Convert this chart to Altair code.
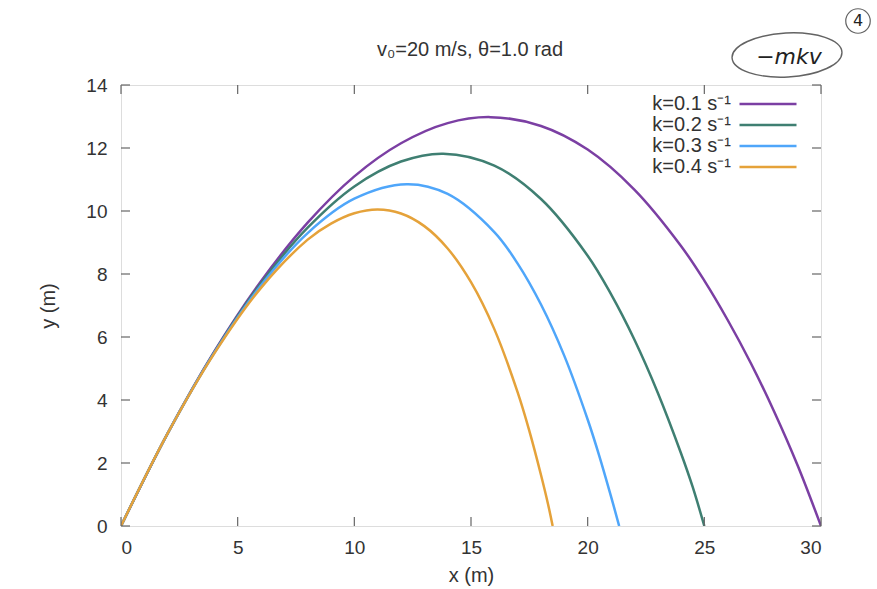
import altair as alt
import pandas as pd

# ---- data ----
labels = ["k=0.1 s⁻¹", "k=0.2 s⁻¹", "k=0.3 s⁻¹", "k=0.4 s⁻¹"]
colors = ["#7b3fa3", "#3f7f72", "#4fa6fa", "#e5a23a"]

x_k01 = [0, 2, 4, 6, 8, 10, 12, 14, 15.84, 18, 20, 22, 24, 25, 26, 27, 28, 29, 30]
y_k01 = [0, 2.94, 5.54, 7.77, 9.63, 11.10, 12.15, 12.79, 12.98, 12.70, 11.95, 10.68,
         8.89, 7.79, 6.54, 5.16, 3.62, 1.92, 0.0]

x_k02 = [0, 2, 4, 6, 8, 10, 12, 13.81, 16, 18, 20, 21, 22, 23, 24, 24.5, 25.0]
y_k02 = [0, 2.94, 5.52, 7.71, 9.47, 10.78, 11.57, 11.82, 11.44, 10.38, 8.58, 7.36,
         5.92, 4.24, 2.31, 1.24, 0.0]

x_k03 = [0, 2, 4, 6, 8, 10, 12.25, 14, 16, 17, 18, 19, 20, 20.5, 21, 21.35]
y_k03 = [0, 2.94, 5.50, 7.64, 9.30, 10.39, 10.85, 10.54, 9.33, 8.33, 7.03,
         5.40, 3.38, 2.22, 0.94, 0.0]

x_k04 = [0, 2, 4, 6, 8, 9, 10, 11, 12, 13, 14, 15, 16, 17, 17.5, 18, 18.3, 18.5]
y_k04 = [0, 2.94, 5.48, 7.56, 9.09, 9.60, 9.93, 10.05, 9.92, 9.52, 8.81, 7.74,
         6.25, 4.24, 3.02, 1.62, 0.70, 0.0]

x_ticks = [0, 5, 10, 15, 20, 25, 30]
y_ticks = [0, 2, 4, 6, 8, 10, 12, 14]

title_text = "v₀=20 m/s, θ=1.0 rad"
note_text = "−mkv"
note_num = "4"

# ---- build table ----
rows = []
for lab, xs, ys in zip(labels, [x_k01, x_k02, x_k03, x_k04],
                       [y_k01, y_k02, y_k03, y_k04]):
    for xv, yv in zip(xs, ys):
        rows.append({"series": lab, "x": xv, "y": yv})
df = pd.DataFrame(rows)

W, H = 700, 441
FONT = "Liberation Sans"
FS = 20
TFS = 19
TXT = "#333333"
FRAME = "#666666"

xscale = alt.Scale(domain=[0, 30], nice=False, zero=False)
yscale = alt.Scale(domain=[0, 14], nice=False, zero=False)

lines = alt.Chart(df).mark_line(strokeWidth=2.5, interpolate="catmull-rom", clip=True).encode(
    x=alt.X("x:Q", scale=xscale,
            axis=alt.Axis(title="x (m)", values=x_ticks, ticks=False, domain=False, grid=False,
                          labelFontSize=TFS, labelFont=FONT, labelColor=TXT, labelPadding=12,
                          titleFontSize=FS, titleFont=FONT, titleColor=TXT, titleFontWeight="normal",
                          titlePadding=8)),
    y=alt.Y("y:Q", scale=yscale,
            axis=alt.Axis(title="y (m)", values=y_ticks, ticks=False, domain=False, grid=False,
                          labelFontSize=TFS, labelFont=FONT, labelColor=TXT, labelPadding=14,
                          titleFontSize=FS, titleFont=FONT, titleColor=TXT, titleFontWeight="normal",
                          titlePadding=27)),
    color=alt.Color("series:N", sort=labels,
                    scale=alt.Scale(domain=labels, range=colors),
                    legend=alt.Legend(orient="none", legendX=636, legendY=8, title=None,
                                      labelFontSize=FS, labelFont=FONT, labelColor=TXT,
                                      symbolType="M -3 0 H 3", symbolSize=361,
                                      symbolStrokeWidth=2.5, symbolFillColor="transparent",
                                      labelAlign="right", labelOffset={"expr": "-48"},
                                      rowPadding=0, padding=0)),
)

xt = pd.DataFrame({"x": x_ticks})
yt = pd.DataFrame({"y": y_ticks})
tick_style = dict(color=FRAME, strokeWidth=1.2)
xt_bottom = alt.Chart(xt).mark_rule(**tick_style).encode(
    x=alt.X("x:Q", scale=xscale), y=alt.value(H), y2=alt.value(H - 9))
xt_top = alt.Chart(xt).mark_rule(**tick_style).encode(
    x=alt.X("x:Q", scale=xscale), y=alt.value(0), y2=alt.value(9))
yt_left = alt.Chart(yt).mark_rule(**tick_style).encode(
    y=alt.Y("y:Q", scale=yscale), x=alt.value(0), x2=alt.value(9))
yt_right = alt.Chart(yt).mark_rule(**tick_style).encode(
    y=alt.Y("y:Q", scale=yscale), x=alt.value(W), x2=alt.value(W - 9))

# chart title as a text annotation
title_df = pd.DataFrame({"t": [title_text]})
title_mark = alt.Chart(title_df).mark_text(
    fontSize=FS, font=FONT, color=TXT, align="center", baseline="middle"
).encode(x=alt.value(349), y=alt.value(-35), text="t:N")

# handwritten-style note at top right
note_df = pd.DataFrame({"t": [note_text]})
ellipse_path = "M -1 0 A 1 0.4 0 1 0 1 0 A 1 0.4 0 1 0 -1 0"
note_ellipse = alt.Chart(note_df).mark_point(
    shape=ellipse_path, filled=False, size=12100, color="#222222", strokeWidth=1.4, angle=357
).encode(x=alt.value(666), y=alt.value(-30))
note_txt = alt.Chart(note_df).mark_text(
    fontSize=22, font="DejaVu Sans", fontStyle="italic", color="#222222"
).encode(x=alt.value(668), y=alt.value(-28), text="t:N")
num_df = pd.DataFrame({"t": [note_num]})
num_circle = alt.Chart(num_df).mark_point(
    shape="circle", filled=False, size=600, color="#222222", strokeWidth=1.2
).encode(x=alt.value(737), y=alt.value(-64))
num_txt = alt.Chart(num_df).mark_text(
    fontSize=16, font="DejaVu Sans", color="#222222"
).encode(x=alt.value(737), y=alt.value(-64), text="t:N")

chart = alt.layer(
    lines, xt_bottom, xt_top, yt_left, yt_right, title_mark,
    note_ellipse, note_txt, num_circle, num_txt
).properties(
    width=W, height=H,
    autosize=alt.AutoSizeParams(type="none"),
    padding={"left": 121, "top": 85, "right": 56, "bottom": 63},
).configure_view(
    stroke=FRAME, strokeWidth=1.5
).configure(background="white")

chart.save("out.html", embed_options={"renderer": "svg", "actions": False})
